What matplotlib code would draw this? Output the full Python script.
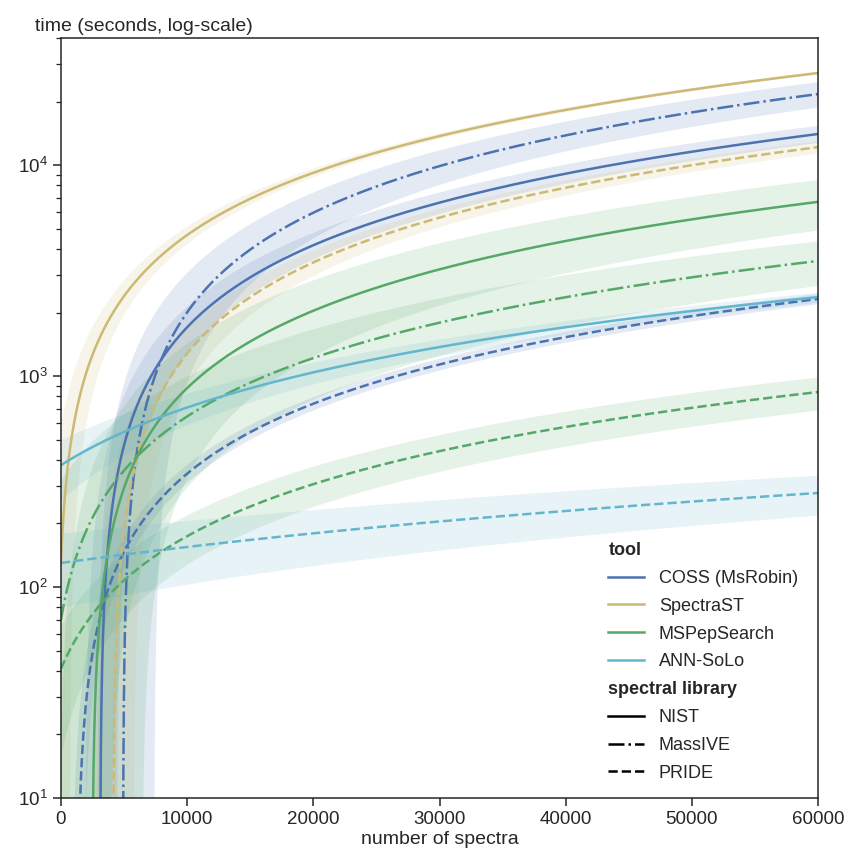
import numpy as np
import matplotlib
matplotlib.use("Agg")
import matplotlib.pyplot as plt
from matplotlib.lines import Line2D

plt.rcParams['font.family'] = ['Liberation Sans', 'DejaVu Sans']
plt.rcParams['mathtext.default'] = 'regular'
plt.rcParams['text.color'] = '.15'
plt.rcParams['axes.labelcolor'] = '.15'
plt.rcParams['xtick.color'] = '.15'
plt.rcParams['ytick.color'] = '.15'

# tools / libraries
tools = ["COSS (MsRobin)", "SpectraST", "MSPepSearch", "ANN-SoLo"]
tool_colors = ["#4C72B0", "#CCB974", "#55A868", "#64B5CD"]
libraries = ["NIST", "MassIVE", "PRIDE"]
lib_styles = ["-", "-.", "--"]

# linear fits (time in seconds)
fit_tool = ["COSS (MsRobin)", "COSS (MsRobin)", "COSS (MsRobin)",
            "SpectraST", "SpectraST",
            "MSPepSearch", "MSPepSearch", "MSPepSearch",
            "ANN-SoLo", "ANN-SoLo"]
fit_lib = ["NIST", "MassIVE", "PRIDE",
           "NIST", "PRIDE",
           "NIST", "MassIVE", "PRIDE",
           "NIST", "PRIDE"]
time_at_0 = [-762, -1934, -50, 130, -897, -286, 70, 41, 378, 130]
time_at_60k = [14030, 21700, 2318, 27300, 12160, 6690, 3510, 840, 2366, 279]
ci_at_0 = [250, 690, 15, 450, 300, 300, 250, 25, 120, 50]
ci_at_60k = [1300, 3000, 130, 400, 830, 1800, 840, 150, 130, 60]

n_max = 60000

fig = plt.figure(figsize=(8.49, 8.59), dpi=100)
ax = fig.add_axes([61/849, 1-798/859, (818-61)/849, (798-38)/859])
ax.set_yscale('log', nonpositive='clip')

xs = np.linspace(0, n_max, 3000)
for t, lib, a0, a1, c0, c1 in zip(fit_tool, fit_lib, time_at_0, time_at_60k, ci_at_0, ci_at_60k):
    col = tool_colors[tools.index(t)]
    ls = lib_styles[libraries.index(lib)]
    y = a0 + (a1 - a0) * xs / n_max
    ci = c0 + (c1 - c0) * xs / n_max
    ax.fill_between(xs, y - ci, y + ci, color=col, alpha=0.15, lw=0)
    ax.plot(xs, y, color=col, ls=ls, lw=1.8)

ax.set_xlim(0, n_max)
ax.set_ylim(10, 40000)
ax.set_xticks(np.arange(0, 60001, 10000))
ax.tick_params(axis='both', which='major', labelsize=13.5, length=6, width=1.1, direction='out')
ax.tick_params(axis='y', which='minor', length=3.5, width=0.9)
for s in ax.spines.values():
    s.set_color('.15')
    s.set_linewidth(1.1)
ax.set_xlabel("number of spectra", fontsize=14, labelpad=2)
fig.text(35/849, 1-31/859, "time (seconds, log-scale)", fontsize=14, ha='left', va='baseline')

# legend with sub-headings
handles, labels = [], []
handles.append(Line2D([], [], alpha=0)); labels.append("tool")
for t, c in zip(tools, tool_colors):
    handles.append(Line2D([], [], color=c, lw=1.8)); labels.append(t)
handles.append(Line2D([], [], alpha=0)); labels.append("spectral library")
for lib, ls in zip(libraries, lib_styles):
    handles.append(Line2D([], [], color='k', ls=ls, lw=1.8)); labels.append(lib)

hl, hp, fs = 2.0, 0.8, 13
leg = ax.legend(handles, labels, loc='lower right', bbox_to_anchor=(0.995, 0.0),
                frameon=False, fontsize=fs, handlelength=hl, handletextpad=hp,
                labelspacing=0.6)
shift = (hl + hp) * fs * fig.dpi / 72
for txt in leg.get_texts():
    if txt.get_text() in ("tool", "spectral library"):
        txt.set_weight('bold')
        txt.set_x(-shift)

fig.savefig("out.png", dpi=100)
